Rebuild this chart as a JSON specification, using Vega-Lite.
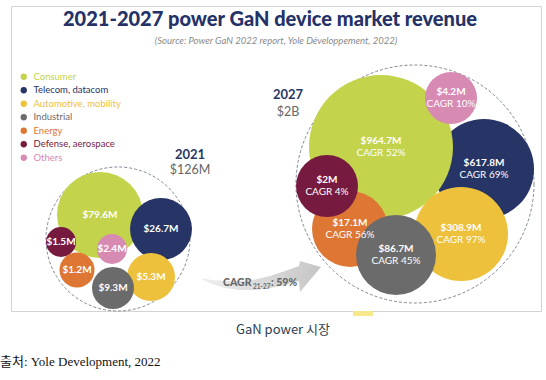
{
  "$schema": "https://vega.github.io/schema/vega-lite/v6.json",
  "width": 530,
  "height": 305,
  "autosize": {"type": "none"},
  "padding": {"left": 11, "top": 6, "right": 5, "bottom": 69},
  "background": "white",
  "config": {"view": {"stroke": "#d3d3d3", "strokeWidth": 1}, "font": "Lato"},
  "encoding": {
    "x": {"field": "x", "type": "quantitative", "scale": {"domain": [11, 541], "nice": false, "zero": false}, "axis": null},
    "y": {"field": "y", "type": "quantitative", "scale": {"domain": [6, 311], "nice": false, "zero": false, "reverse": true}, "axis": null}
  },
  "layer": [
    {
      "data": {"values": [
        {"x": 202, "top": 278.5, "bottom": 279.5},
        {"x": 212, "top": 280, "bottom": 284},
        {"x": 225, "top": 281, "bottom": 288},
        {"x": 240, "top": 281, "bottom": 290},
        {"x": 255, "top": 279.5, "bottom": 290},
        {"x": 270, "top": 276, "bottom": 288},
        {"x": 285, "top": 271, "bottom": 285},
        {"x": 299, "top": 266, "bottom": 281},
        {"x": 300, "top": 261, "bottom": 292},
        {"x": 321, "top": 267, "bottom": 267}
      ]},
      "mark": {"type": "area", "interpolate": "linear", "color": {"gradient": "linear", "x1": 0, "x2": 1, "y1": 0, "y2": 0, "stops": [{"offset": 0, "color": "#eeeeee"}, {"offset": 1, "color": "#c6c6c6"}]}},
      "encoding": {
        "y": {"field": "top", "type": "quantitative", "scale": {"domain": [6, 311], "nice": false, "zero": false, "reverse": true}, "axis": null},
        "y2": {"field": "bottom"}
      }
    },
    {
      "data": {"values": [
        {"year": "2021", "x": 118, "y": 239, "r": 72},
        {"year": "2027", "x": 415, "y": 184, "r": 119}
      ]},
      "mark": {"type": "point", "shape": "circle", "filled": false, "stroke": "#7f8793", "strokeWidth": 1, "strokeDash": [3, 2], "opacity": 1},
      "encoding": {
        "size": {"field": "r", "type": "quantitative", "scale": {"type": "pow", "exponent": 2, "domain": [0, 100], "range": [0, 40000]}, "legend": null}
      }
    },
    {
      "data": {"name": "bubbles"},
      "mark": {"type": "point", "shape": "circle", "filled": true, "opacity": 1, "strokeWidth": 0},
      "encoding": {
        "size": {"field": "r", "type": "quantitative", "scale": {"type": "pow", "exponent": 2, "domain": [0, 100], "range": [0, 40000]}, "legend": null},
        "color": {
          "field": "segment", "type": "nominal",
          "scale": {
            "domain": ["Consumer", "Telecom, datacom", "Automotive, mobility", "Industrial", "Energy", "Defense, aerospace", "Others"],
            "range": ["#c4d34c", "#263466", "#eec13d", "#6b6b6b", "#de7634", "#761a40", "#d78ab2"]
          },
          "legend": {
            "orient": "none", "legendX": 8, "legendY": 66, "title": null, "padding": 0,
            "symbolType": "circle", "symbolSize": 40, "symbolStrokeWidth": 0, "symbolOpacity": 1,
            "labelFont": "Lato", "labelFontSize": 9.5, "labelOffset": 5, "rowPadding": 2.5, "labelLimit": 200,
            "encode": {"labels": {"update": {"fill": {"scale": "color", "field": "value"}}}}
          }
        }
      }
    },
    {
      "data": {"name": "bubbles"},
      "transform": [{"filter": "datum.year == '2021'"}],
      "mark": {"type": "text", "color": "white", "fontWeight": "bold", "fontSize": 10, "baseline": "middle", "align": "center"},
      "encoding": {"text": {"field": "value"}}
    },
    {
      "data": {"name": "bubbles"},
      "transform": [{"filter": "datum.year == '2027'"}],
      "mark": {"type": "text", "color": "white", "fontWeight": "bold", "fontSize": 10, "baseline": "middle", "align": "center", "dy": -6},
      "encoding": {"text": {"field": "value"}}
    },
    {
      "data": {"name": "bubbles"},
      "transform": [{"filter": "datum.year == '2027'"}],
      "mark": {"type": "text", "color": "white", "fontSize": 10, "baseline": "middle", "align": "center", "dy": 6},
      "encoding": {"text": {"field": "cagr"}}
    },
    {
      "data": {"values": [{"text": "2021-2027 power GaN device market revenue", "x": 270, "y": 20}]},
      "mark": {"type": "text", "font": "Lato", "fontWeight": 900, "fontSize": 20, "color": "#243268", "baseline": "middle", "align": "center"},
      "encoding": {"text": {"field": "text"}}
    },
    {
      "data": {"values": [{"text": "(Source: Power GaN 2022 report, Yole Développement, 2022)", "x": 276, "y": 41}]},
      "mark": {"type": "text", "fontStyle": "italic", "fontSize": 9.5, "color": "#8a8a8a", "baseline": "middle", "align": "center"},
      "encoding": {"text": {"field": "text"}}
    },
    {
      "data": {"values": [{"text": "2021", "x": 190, "y": 155}, {"text": "2027", "x": 288, "y": 95}]},
      "mark": {"type": "text", "fontWeight": "bold", "fontSize": 13, "color": "#2a3766", "baseline": "middle", "align": "center"},
      "encoding": {"text": {"field": "text"}}
    },
    {
      "data": {"values": [{"text": "$126M", "x": 190, "y": 170}, {"text": "$2B", "x": 288, "y": 112}]},
      "mark": {"type": "text", "fontSize": 12.5, "color": "#666666", "baseline": "middle", "align": "center"},
      "encoding": {"text": {"field": "text"}}
    },
    {
      "data": {"values": [{"text": "CAGR", "x": 223, "y": 283}, {"text": ": 59%", "x": 271, "y": 283}]},
      "mark": {"type": "text", "fontWeight": 900, "fontSize": 10.5, "color": "#686868", "baseline": "middle", "align": "left"},
      "encoding": {"text": {"field": "text"}}
    },
    {
      "data": {"values": [{"text": "21-27", "x": 253, "y": 287}]},
      "mark": {"type": "text", "fontWeight": "bold", "fontSize": 6.5, "color": "#686868", "baseline": "middle", "align": "left"},
      "encoding": {"text": {"field": "text"}}
    },
    {
      "data": {"values": [{"x": 353, "x2": 373, "y": 311, "y2": 316}]},
      "mark": {"type": "rect", "color": "#f6e98c"},
      "encoding": {"x2": {"field": "x2"}, "y2": {"field": "y2"}}
    },
    {
      "data": {"values": [{"text": "GaN power 시장", "x": 283, "y": 330}]},
      "mark": {"type": "text", "font": "Noto Sans CJK KR", "fontSize": 13, "color": "#2c3e50", "baseline": "middle", "align": "center"},
      "encoding": {"text": {"field": "text"}}
    },
    {
      "data": {"values": [{"text": "출처: Yole Development, 2022", "x": 0, "y": 362}]},
      "mark": {"type": "text", "font": "Liberation Serif, Noto Sans CJK KR", "fontSize": 13, "color": "#111111", "baseline": "middle", "align": "left"},
      "encoding": {"text": {"field": "text"}}
    }
  ],
  "datasets": {
    "bubbles": [
      {"year": "2021", "segment": "Consumer", "value": "$79.6M", "cagr": "", "x": 100, "y": 215, "r": 43},
      {"year": "2021", "segment": "Telecom, datacom", "value": "$26.7M", "cagr": "", "x": 161, "y": 229, "r": 31},
      {"year": "2021", "segment": "Others", "value": "$2.4M", "cagr": "", "x": 112, "y": 249, "r": 15},
      {"year": "2021", "segment": "Defense, aerospace", "value": "$1.5M", "cagr": "", "x": 61, "y": 242, "r": 15},
      {"year": "2021", "segment": "Energy", "value": "$1.2M", "cagr": "", "x": 77, "y": 270, "r": 17.5},
      {"year": "2021", "segment": "Automotive, mobility", "value": "$5.3M", "cagr": "", "x": 151, "y": 277, "r": 24},
      {"year": "2021", "segment": "Industrial", "value": "$9.3M", "cagr": "", "x": 113, "y": 288, "r": 21},
      {"year": "2027", "segment": "Telecom, datacom", "value": "$617.8M", "cagr": "CAGR 69%", "x": 484, "y": 169, "r": 50},
      {"year": "2027", "segment": "Consumer", "value": "$964.7M", "cagr": "CAGR 52%", "x": 381, "y": 147, "r": 72},
      {"year": "2027", "segment": "Others", "value": "$4.2M", "cagr": "CAGR 10%", "x": 451, "y": 98, "r": 26},
      {"year": "2027", "segment": "Automotive, mobility", "value": "$308.9M", "cagr": "CAGR 97%", "x": 461, "y": 234, "r": 47},
      {"year": "2027", "segment": "Energy", "value": "$17.1M", "cagr": "CAGR 56%", "x": 350, "y": 229, "r": 38},
      {"year": "2027", "segment": "Industrial", "value": "$86.7M", "cagr": "CAGR 45%", "x": 396, "y": 255, "r": 40},
      {"year": "2027", "segment": "Defense, aerospace", "value": "$2M", "cagr": "CAGR 4%", "x": 327, "y": 186, "r": 31}
    ]
  }
}
